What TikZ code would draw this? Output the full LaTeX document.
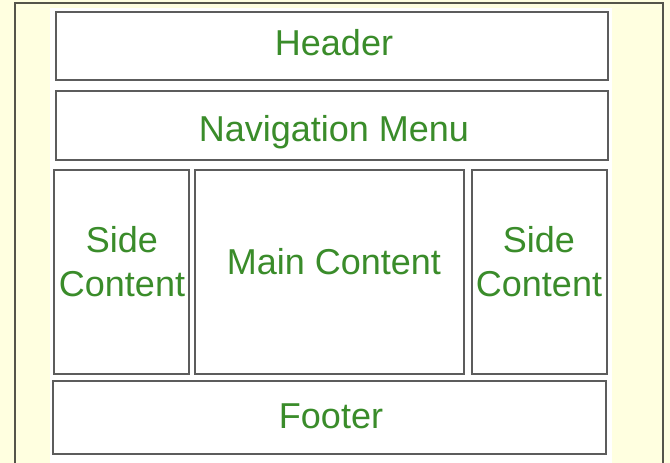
\documentclass[tikz,border=0pt]{standalone}
\usepackage{fontspec}
\setmainfont{Liberation Sans}
\definecolor{cream}{HTML}{FFFFE0}
\definecolor{txtgreen}{HTML}{3A8C2A}
\definecolor{boxgray}{HTML}{5C5C5C}
\definecolor{framegray}{HTML}{55554A}
\begin{document}
\begin{tikzpicture}[x=1pt,y=-1pt,
  region/.style={draw=boxgray,line width=2.2pt,fill=white,inner sep=0pt},
  label/.style={text=txtgreen,font=\fontsize{36}{44}\selectfont,align=center,inner sep=0pt},
  frame/.style={draw=framegray,line width=1.5pt}]
\useasboundingbox (0,0) rectangle (670,463);
\fill[cream] (0,0) rectangle (670,463);
\fill[white] (50,8) rectangle (612,463);
\draw[frame] (15,463) -- (15,3) -- (663,3) -- (663,463);
% regions
\draw[region] (56,12) rectangle (608,80);
\draw[region] (56,91) rectangle (608,160);
\draw[region] (54,170) rectangle (189,374);
\draw[region] (195,170) rectangle (464,374);
\draw[region] (472,170) rectangle (607,374);
\draw[region] (53,381) rectangle (606,454);
% labels
\node[label] (header) at (334,43) {Header};
\node[label] (nav) at (334,132) {Navigation Menu};
\node[label] (sideL) at (122,262) {Side\\Content};
\node[label] (main) at (334,262) {Main Content};
\node[label] (sideR) at (539,262) {Side\\Content};
\node[label] (footer) at (331,416) {Footer};
\end{tikzpicture}
\end{document}
